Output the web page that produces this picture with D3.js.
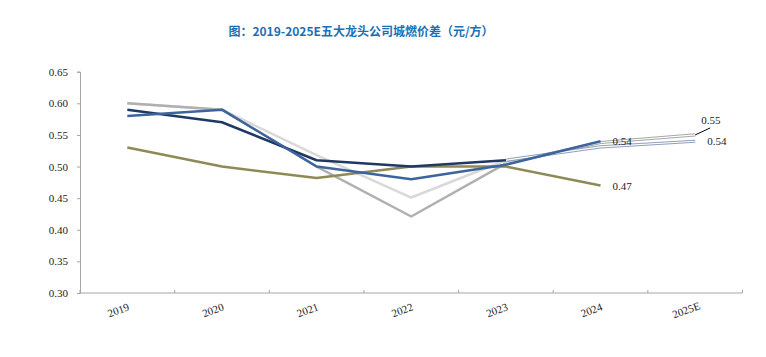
<!DOCTYPE html>
<html><head><meta charset="utf-8">
<script src="https://cdn.jsdelivr.net/npm/d3@7"></script>
<style>body{margin:0;background:#fff;}svg{display:block;}</style>
</head><body>
<svg id="c" width="766" height="357"></svg>
<script>
const years = ["2019","2020","2021","2022","2023","2024","2025E"];
const yTicks = [0.30,0.35,0.40,0.45,0.50,0.55,0.60,0.65];
const navy = [0.59,0.57,0.51,0.50,0.51,null,null];
const navyEst = [null,null,null,null,0.51,0.531,0.54];
const blue = [0.58,0.59,0.50,0.48,0.503,0.54,null];
const grey = [0.60,0.59,0.50,0.421,0.505,null,null];
const greyEst = [null,null,null,null,0.505,0.538,0.55];
const lightGrey = [0.60,0.59,0.518,0.451,0.51,null,null];
const olive = [0.53,0.50,0.482,0.50,0.50,0.47,null];
const labels = [
  {year:"2024", value:0.54, text:"0.54", dx:12, dy:4},
  {year:"2024", value:0.47, text:"0.47", dx:12, dy:4},
  {year:"2025E", value:0.55, text:"0.55", dx:6, dy:-11, leader:true},
  {year:"2025E", value:0.54, text:"0.54", dx:12, dy:4}
];

const svg = d3.select("#c");
const m = {l:80, r:766-742.5, t:71.7, b:357-293};
const W = 766, H = 357;
const x = d3.scaleBand().domain(years).range([m.l, 742.5]);
const y = d3.scaleLinear().domain([0.30,0.65]).range([293, 71.7]);
const cx = d => x(d) + x.bandwidth()/2;

svg.append("text").attr("x", 361).attr("y", 36).attr("text-anchor","middle")
  .attr("font-family","'Noto Sans CJK SC', sans-serif").attr("font-weight","bold")
  .attr("font-size", 12).attr("fill","#1a6fb5")
  .text("图：2019-2025E五大龙头公司城燃价差（元/方）");

// y axis
const ya = svg.append("g").attr("transform",`translate(${m.l},0)`)
  .call(d3.axisLeft(y).tickValues(yTicks).tickFormat(d3.format(".2f")).tickSize(3).tickPadding(9));
ya.select(".domain").attr("stroke","#a6a6a6");
ya.selectAll(".tick line").attr("stroke","#a6a6a6");
ya.selectAll(".tick text").attr("font-family","'Liberation Serif', serif").attr("font-size",11).attr("fill","#222");

// x axis
const xa = svg.append("g").attr("transform",`translate(0,293)`);
xa.append("line").attr("x1", m.l).attr("x2", 742.5).attr("stroke","#a6a6a6");
const bounds = years.map(d => x(d)).concat([742.5]);
xa.selectAll("line.tk").data(bounds).join("line").attr("class","tk")
  .attr("x1", d=>d).attr("x2", d=>d).attr("y1",0).attr("y2",-3).attr("stroke","#a6a6a6");
xa.selectAll("text").data(years).join("text")
  .attr("transform", d => `translate(${cx(d)-9},17) rotate(-20)`)
  .attr("text-anchor","middle").attr("dy","0.35em")
  .attr("font-family","'Liberation Serif', serif").attr("font-size",11).attr("fill","#222")
  .text(d=>d);

const line = d3.line().defined(d => d.v != null).x(d => cx(d.k)).y(d => y(d.v));
const pts = arr => years.map((k,i)=>({k, v:arr[i]}));

function draw(arr, color, w){
  svg.append("path").datum(pts(arr)).attr("d", line).attr("fill","none")
    .attr("stroke", color).attr("stroke-width", w).attr("stroke-linejoin","round");
}
function drawDouble(arr, color){
  draw(arr, color, 3.2);
  draw(arr, "#ffffff", 1.2);
}
draw(lightGrey, "#d9d9d9", 2.5);
draw(grey, "#b0b0b0", 2.5);
drawDouble(greyEst, "#a6a6a6");
drawDouble(navyEst, "#8da0bd");
draw(olive, "#8f8a55", 2.5);
draw(navy, "#1f3864", 2.5);
draw(blue, "#3d659d", 2.5);

labels.forEach(l => {
  const px = cx(l.year), py = y(l.value);
  if (l.leader) {
    svg.append("line").attr("x1", px).attr("y1", py).attr("x2", px+15).attr("y2", py-7)
      .attr("stroke","#000").attr("stroke-width",1);
  }
  svg.append("text").attr("x", px + l.dx).attr("y", py + l.dy)
    .attr("font-family","'Liberation Serif', serif").attr("font-size",11).attr("fill","#222")
    .text(l.text);
});
</script>
</body></html>
